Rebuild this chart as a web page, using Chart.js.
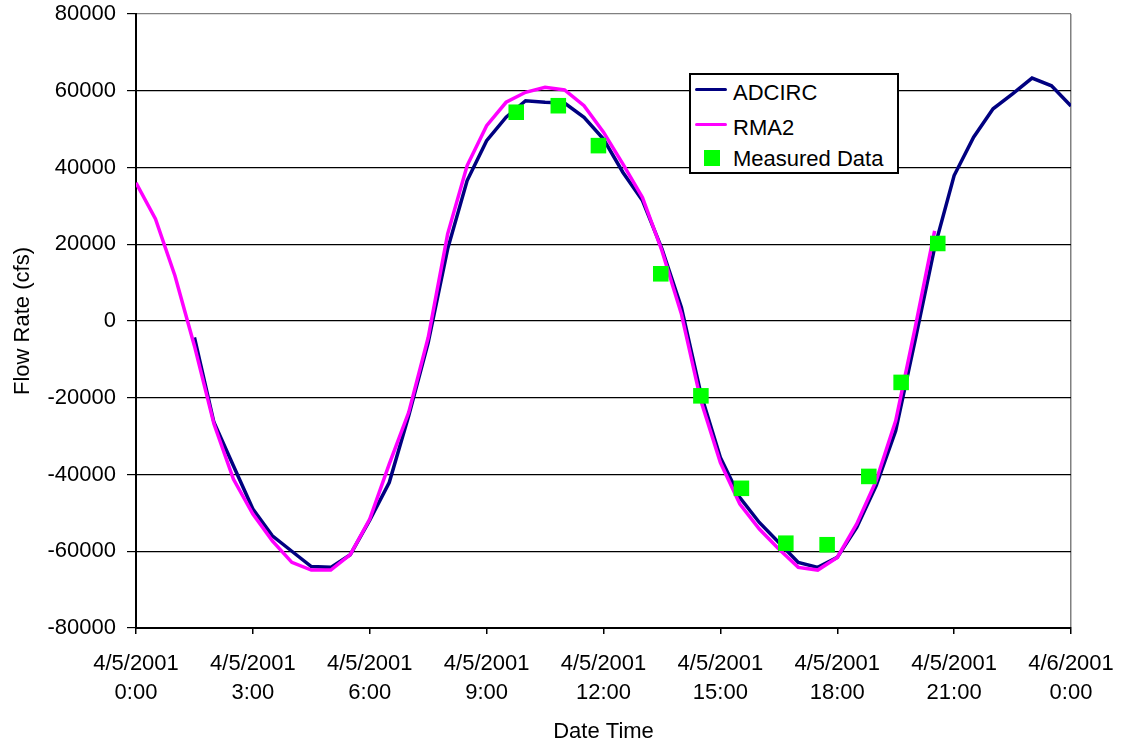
<!DOCTYPE html>
<html>
<head>
<meta charset="utf-8">
<script src="https://cdn.jsdelivr.net/npm/chart.js@4/dist/chart.umd.min.js"></script>
<style>
    body { margin:0; background:#fff; }
    .wrap { position:relative; width:1122px; height:746px; }
    .legend {
        position:absolute; left:689px; top:73px; width:206px; height:97px;
        border:2px solid #000; background:#fff;
        font:22px "Liberation Sans", Arial, sans-serif; color:#000;
    }
    .legend span { position:absolute; }
    .legend .txt { left:42px; line-height:26px; white-space:nowrap; }
    .legend .ln  { left:4px; width:32px; height:3px; border-radius:2px; }
    .legend .sq  { left:13px; width:16px; height:16px; }
</style>
</head>
<body>
<div class="wrap">
    <canvas id="flowChart"></canvas>
    <div class="legend" id="chartLegend"></div>
</div>
<script>
// ── Data ─────────────────────────────────────────────
const tickDates = ['4/5/2001','4/5/2001','4/5/2001','4/5/2001','4/5/2001','4/5/2001','4/5/2001','4/5/2001','4/6/2001'];
const tickTimes = ['0:00','3:00','6:00','9:00','12:00','15:00','18:00','21:00','0:00'];
const yTicks    = [80000, 60000, 40000, 20000, 0, -20000, -40000, -60000, -80000];

// hours since 4/5/2001 0:00
const adcircHours = [1.5,2,2.5,3,3.5,4,4.5,5,5.5,6,6.5,7,7.5,8,8.5,9,9.5,10,10.5,11,11.5,12,12.5,13,13.5,14,14.5,15,15.5,16,16.5,17,17.5,18,18.5,19,19.5,20,20.5,21,21.5,22,22.5,23,23.5,24,24.5];
const adcircFlow  = [-4300,-26400,-37700,-49000,-56000,-60000,-64000,-64200,-60900,-51900,-42100,-24700,-5600,18800,36600,47000,53100,57400,57000,56800,53100,47400,38700,31400,18800,3500,-19000,-35600,-46000,-52500,-57700,-62900,-64200,-61600,-53800,-42900,-28600,-5000,19200,37900,47900,55300,59200,63300,61300,56000,50800];

const rmaHours = [0,0.5,1,1.5,2,2.5,3,3.5,4,4.5,5,5.5,6,6.5,7,7.5,8,8.5,9,9.5,10,10.5,11,11.5,12,12.5,13,13.5,14,14.5,15,15.5,16,16.5,17,17.5,18,18.5,19,19.5,20,20.5];
const rmaFlow  = [36000,26600,11800,-6500,-26800,-41200,-50300,-57300,-62900,-64900,-64900,-60900,-51600,-37300,-23800,-4300,22700,40500,50900,57000,59600,60900,60200,56100,49200,40900,32200,18300,1800,-20800,-36900,-47700,-54200,-59400,-64200,-64900,-61600,-52900,-41600,-26000,-1700,23500];

const measHours = [9.76,10.84,11.87,13.47,14.5,15.54,16.68,17.74,18.81,19.64,20.58];
const measFlow  = [54400,56100,45700,12300,-19500,-43600,-57900,-58300,-40500,-16000,20200];

const toXY = (xs, ys) => xs.map((x, i) => ({ x, y: ys[i] }));

// ── Chart ────────────────────────────────────────────
const FONT = '"Liberation Sans", Arial, sans-serif';
Chart.defaults.font.family = FONT;
Chart.defaults.color = '#000';

const datasets = [
    { label:'ADCIRC', type:'line', data: toXY(adcircHours, adcircFlow),
      borderColor:'#000080', borderWidth:3.5, pointRadius:0, tension:0, order:2 },
    { label:'RMA2', type:'line', data: toXY(rmaHours, rmaFlow),
      borderColor:'#ff00ff', borderWidth:3.5, pointRadius:0, tension:0, order:1 },
    { label:'Measured Data', type:'scatter', data: toXY(measHours, measFlow),
      backgroundColor:'#00ff00', borderColor:'#00ff00', borderWidth:0,
      pointStyle:'rect', pointRadius:11, order:0 }
];

new Chart(document.getElementById('flowChart'), {
    type: 'line',
    data: { datasets },
    options: {
        responsive: true,
        maintainAspectRatio: false,
        animation: false,
        layout: { padding: { top:14, right:51, bottom:0, left:0 } },
        plugins: { legend: { display:false }, tooltip: { enabled:false } },
        scales: {
            x: {
                type: 'linear', min: 0, max: 24,
                afterFit: s => { s.height = 118; s.paddingLeft = 0; s.paddingRight = 0; },
                grid: {
                    color: c => (c.tick && c.tick.value === 24) ? '#808080' : 'rgba(0,0,0,0)',
                    tickColor: '#000', tickLength: 6, lineWidth: 1.5
                },
                border: { color:'#000', width:2 },
                ticks: {
                    stepSize: 3, autoSkip: false, maxRotation: 0, padding: 15.75,
                    font: { size:22, lineHeight:'28.5px' },
                    callback: (v, i) => [tickDates[i], tickTimes[i]]
                },
                title: { display:true, text:'Date Time', font:{ size:22, lineHeight:1.2 }, padding:{ top:0, bottom:1 } }
            },
            y: {
                min: -80000, max: 80000,
                afterFit: s => { s.width = 136; s.paddingTop = 0; s.paddingBottom = 0; },
                afterBuildTicks: s => { s.ticks = yTicks.map(v => ({ value: v })); },
                grid: {
                    color: c => (c.tick && c.tick.value === 80000) ? '#808080' : '#000',
                    tickColor: '#000', tickLength: 9, lineWidth: 1.2
                },
                border: { color:'#000', width:2 },
                ticks: { padding: 11, font:{ size:22 }, callback: v => String(v) },
                title: { display:true, text:'Flow Rate (cfs)', font:{ size:22, lineHeight:1.2 }, padding:{ top:10, bottom:0 } }
            }
        }
    }
});

// Legend
const rowCenters = [18, 53, 84];
const leg = document.getElementById('chartLegend');
leg.innerHTML = datasets.map((d, i) => {
    const mark = d.type === 'scatter'
        ? `<span class="sq" style="top:${rowCenters[i]-9}px;background:${d.backgroundColor}"></span>`
        : `<span class="ln" style="top:${rowCenters[i]-5}px;background:${d.borderColor}"></span>`;
    return mark + `<span class="txt" style="top:${rowCenters[i]-13}px">${d.label}</span>`;
}).join('');
</script>
</body>
</html>
